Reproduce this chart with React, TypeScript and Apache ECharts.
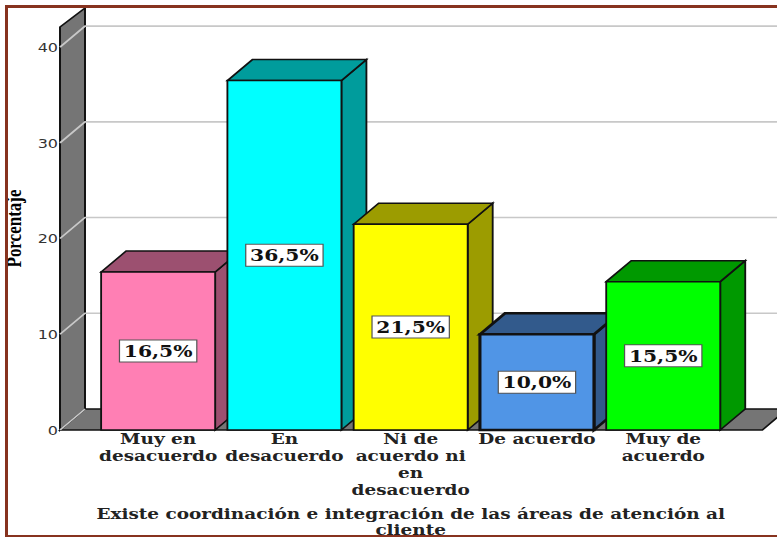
import React, { useEffect, useRef } from "react";
import * as echarts from "echarts";

const categories = [
  "Muy en\ndesacuerdo",
  "En\ndesacuerdo",
  "Ni de\nacuerdo ni\nen\ndesacuerdo",
  "De acuerdo",
  "Muy de\nacuerdo",
];
const percentages = [16.5, 36.5, 21.5, 10.0, 15.5];
const valueLabels = ["16,5%", "36,5%", "21,5%", "10,0%", "15,5%"];
const frontColors = ["#ff7fb4", "#00ffff", "#ffff00", "#5095e6", "#00ff00"];
const sideColors = ["#9c5070", "#009c9c", "#9c9c00", "#325a8c", "#009900"];
const outlineWidths = [1.5, 1.5, 1.5, 2.5, 1.5];
const gridTicks = [0, 10, 20, 30, 40];

// The drawing is laid out narrow and widened with a CSS transform, which gives
// the wide lettering of the exported figure on every label.
const STRETCH = 1.23;
const PAGE_W = 777;
const PAGE_H = 537;
const px = (v: number) => v / STRETCH;

const SERIF = '"DejaVu Serif", serif';
const DEPTH_X = px(25);
const DEPTH_Y = 21;
const WALL_OFFSET = px(35);
const WALL_GREY = "#757575";
const FRAME = "#87331f";

export default function App() {
  const ref = useRef<HTMLDivElement>(null);

  useEffect(() => {
    document.body.style.margin = "0";
    const chart = echarts.init(ref.current!, undefined, { renderer: "svg" });

    const frameBar = (x: number, y: number, width: number, height: number) => ({
      type: "rect",
      z: 100,
      silent: true,
      shape: { x: px(x), y, width: px(width), height },
      style: { fill: FRAME },
    });

    chart.setOption({
      animation: false,
      backgroundColor: "#ffffff",
      grid: {
        left: px(95),
        right: px(51),
        top: 27,
        bottom: 107,
        containLabel: false,
        outerBoundsMode: "none",
      },
      xAxis: {
        type: "category",
        data: categories,
        axisLine: { show: false },
        axisTick: { show: false },
        axisLabel: {
          interval: 0,
          margin: 0,
          fontFamily: SERIF,
          fontWeight: "bold",
          fontSize: 15,
          lineHeight: 17,
          color: "#222222",
        },
        name: "Existe coordinación e integración de las áreas de atención al\ncliente",
        nameLocation: "middle",
        nameGap: 76,
        nameTextStyle: {
          fontFamily: SERIF,
          fontWeight: "bold",
          fontSize: 15,
          lineHeight: 16,
          color: "#222222",
        },
      },
      yAxis: {
        type: "value",
        min: 0,
        max: 42.1,
        interval: 10,
        offset: WALL_OFFSET,
        axisLine: { show: false },
        axisTick: { show: false },
        splitLine: { show: false },
        axisLabel: {
          margin: px(2),
          showMaxLabel: false,
          fontFamily: '"DejaVu Sans", sans-serif',
          fontSize: 13,
          color: "#333333",
          padding: [6, 0, 0, 0],
        },
        name: "Porcentaje",
        nameLocation: "middle",
        nameRotate: 90,
        nameGap: px(36),
        nameTextStyle: {
          fontFamily: '"Liberation Serif", serif',
          fontWeight: "bold",
          fontSize: 17,
          color: "#000000",
        },
      },
      series: [
        {
          // side wall and floor of the 3D box
          type: "custom",
          silent: true,
          z: 1,
          clip: false,
          data: [[0, 0]],
          renderItem: (params: any) => {
            const cs = params.coordSys;
            const base = cs.y + cs.height;
            const left = cs.x - WALL_OFFSET;
            const right = cs.x + cs.width + px(36);
            const edge = { stroke: "#111111", lineWidth: 1.5, fill: WALL_GREY };
            return {
              type: "group",
              children: [
                {
                  type: "polygon",
                  shape: {
                    points: [
                      [left, base],
                      [left + DEPTH_X, base - DEPTH_Y],
                      [right + DEPTH_X, base - DEPTH_Y],
                      [right, base],
                    ],
                  },
                  style: edge,
                },
                {
                  type: "polygon",
                  shape: {
                    points: [
                      [left, base],
                      [left, cs.y],
                      [left + DEPTH_X, cs.y - 19],
                      [left + DEPTH_X, base - DEPTH_Y],
                    ],
                  },
                  style: { ...edge, lineWidth: 1.6 },
                },
              ],
            };
          },
        },
        {
          // grid lines run across the back and down the side wall
          type: "custom",
          silent: true,
          z: 2,
          clip: false,
          data: gridTicks.map((t) => [0, t]),
          renderItem: (params: any, api: any) => {
            const cs = params.coordSys;
            const y = api.coord([0, api.value(1)])[1];
            const left = cs.x - WALL_OFFSET;
            const isBase = api.value(1) === 0;
            const diagonal = [
              [left, y],
              [left + DEPTH_X, y - DEPTH_Y],
            ];
            return {
              type: "polyline",
              shape: {
                points: isBase ? diagonal : [...diagonal, [px(PAGE_W), y - DEPTH_Y]],
              },
              style: { stroke: "#c8c8c8", lineWidth: 1.6, fill: "none" },
            };
          },
        },
        {
          // the five extruded bars, drawn left to right so each overlaps the previous side
          type: "custom",
          z: 3,
          clip: false,
          encode: { x: 0, y: 1 },
          data: percentages.map((v, i) => [i, v]),
          renderItem: (params: any, api: any) => {
            const i = api.value(0);
            const v = api.value(1);
            const [cx, top] = api.coord([i, v]);
            const base = api.coord([i, 0])[1];
            const half = (api.size([1, 0])[0] * 0.903) / 2;
            const l = cx - half;
            const r = cx + half;
            const stroke = { stroke: "#111111", lineWidth: outlineWidths[i] };
            return {
              type: "group",
              children: [
                {
                  type: "polygon",
                  shape: {
                    points: [
                      [r, top],
                      [r + DEPTH_X, top - DEPTH_Y],
                      [r + DEPTH_X, base - DEPTH_Y],
                      [r, base],
                    ],
                  },
                  style: { ...stroke, fill: sideColors[i] },
                },
                {
                  type: "polygon",
                  shape: {
                    points: [
                      [l, top],
                      [l + DEPTH_X, top - DEPTH_Y],
                      [r + DEPTH_X, top - DEPTH_Y],
                      [r, top],
                    ],
                  },
                  style: { ...stroke, fill: sideColors[i] },
                },
                {
                  type: "rect",
                  shape: { x: l, y: top, width: r - l, height: base - top },
                  style: { ...stroke, fill: frontColors[i] },
                },
                {
                  type: "text",
                  x: cx,
                  y: (top + base) / 2,
                  style: {
                    text: valueLabels[i],
                    align: "center",
                    verticalAlign: "middle",
                    fontFamily: SERIF,
                    fontWeight: "bold",
                    fontSize: 16.5,
                    fill: "#111111",
                    backgroundColor: "#ffffff",
                    borderColor: "#555555",
                    borderWidth: 1,
                    padding: [2, 3, 2, 3],
                  },
                },
              ],
            };
          },
        },
      ],
      // brown border along the top, left and bottom of the figure
      graphic: [
        frameBar(5, 5, PAGE_W - 5, 3),
        frameBar(5, 5, 3, PAGE_H - 7),
        frameBar(5, 535, PAGE_W - 5, 2),
      ],
    });

    return () => chart.dispose();
  }, []);

  return (
    <div style={{ width: PAGE_W, height: PAGE_H, overflow: "hidden" }}>
      <div
        ref={ref}
        style={{
          width: px(PAGE_W),
          height: PAGE_H,
          transform: `scaleX(${STRETCH})`,
          transformOrigin: "0 0",
        }}
      />
    </div>
  );
}
